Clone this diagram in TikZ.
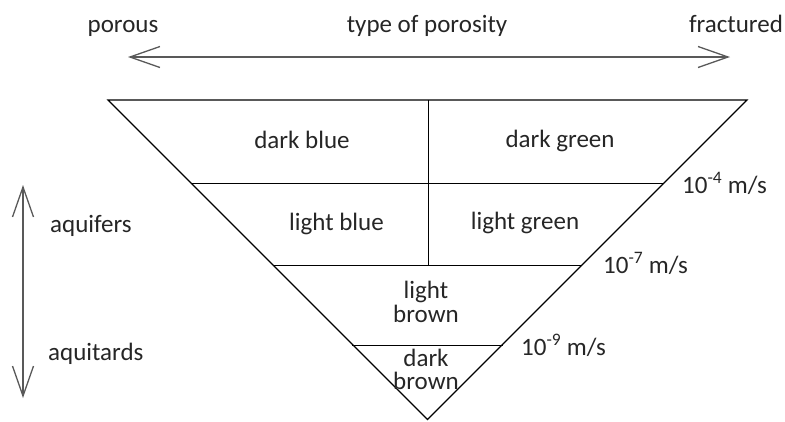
\documentclass[tikz,border=0pt]{standalone}
\usepackage{fontspec}
\setmainfont{Carlito}
\usetikzlibrary{arrows.meta}
\begin{document}
\begin{tikzpicture}[x=1pt,y=-1pt,
  lbl/.style={font=\fontsize{25}{27}\selectfont, inner sep=0pt, text=black!85, anchor=base},
  two/.style={lbl, align=center},
  edge/.style={line width=1.2pt, black},
  bigarrow/.style={line width=1.8pt, black!65, {Straight Barb[length=30pt,width=21pt,line width=1.3pt]}-{Straight Barb[length=30pt,width=21pt,line width=1.3pt]}}]
\useasboundingbox (0,0) rectangle (785,421);
% triangle corners
\coordinate (tl) at (108,100);
\coordinate (tr) at (747,100);
\coordinate (ap) at (427.5,419.5);
\coordinate (tm) at (428.3,100);
% levels
\coordinate (a1) at (191,183.5);
\coordinate (b1) at (664,183.5);
\coordinate (a2) at (274,265.5);
\coordinate (b2) at (582,265.5);
\coordinate (m2) at (428.3,265.5);
\coordinate (a3) at (352,345.5);
\coordinate (b3) at (503,345.5);
\draw[edge] (tl) -- (tr) -- (ap) -- cycle;
\draw[edge] (a1) -- (b1);
\draw[edge] (a2) -- (b2);
\draw[edge] (a3) -- (b3);
\draw[edge] (tm) -- (m2);
% arrows
\coordinate (hl) at (128,57);
\coordinate (hr) at (730,57);
\draw[bigarrow] (hl) -- (hr);
\coordinate (vt) at (23,185);
\coordinate (vb) at (23,398);
\draw[bigarrow] (vt) -- (vb);
% texts
\node[lbl] (porous) at (123,32) {porous};
\node[lbl] (type) at (427,32) {type of porosity};
\node[lbl] (frac) at (736,32) {fractured};
\node[lbl] (db) at (302,148) {dark blue};
\node[lbl] (dg) at (560,147) {dark green};
\node[lbl] (lb) at (336.5,230) {light blue};
\node[lbl] (lg) at (525,229) {light green};
\node[two] (lbr) at (426,322) {light\\[-3pt]brown};
\node[two] (dbr) at (426,389) {dark\\[-4pt]brown};
\node[lbl, anchor=base west] (aqf) at (50,232) {aquifers};
\node[lbl, anchor=base west] (aqt) at (48,360) {aquitards};
\node[lbl, anchor=base west] (k4) at (682,193) {10\textsuperscript{-4} m/s};
\node[lbl, anchor=base west] (k7) at (603,273) {10\textsuperscript{-7} m/s};
\node[lbl, anchor=base west] (k9) at (521,355) {10\textsuperscript{-9} m/s};
\end{tikzpicture}
\end{document}
